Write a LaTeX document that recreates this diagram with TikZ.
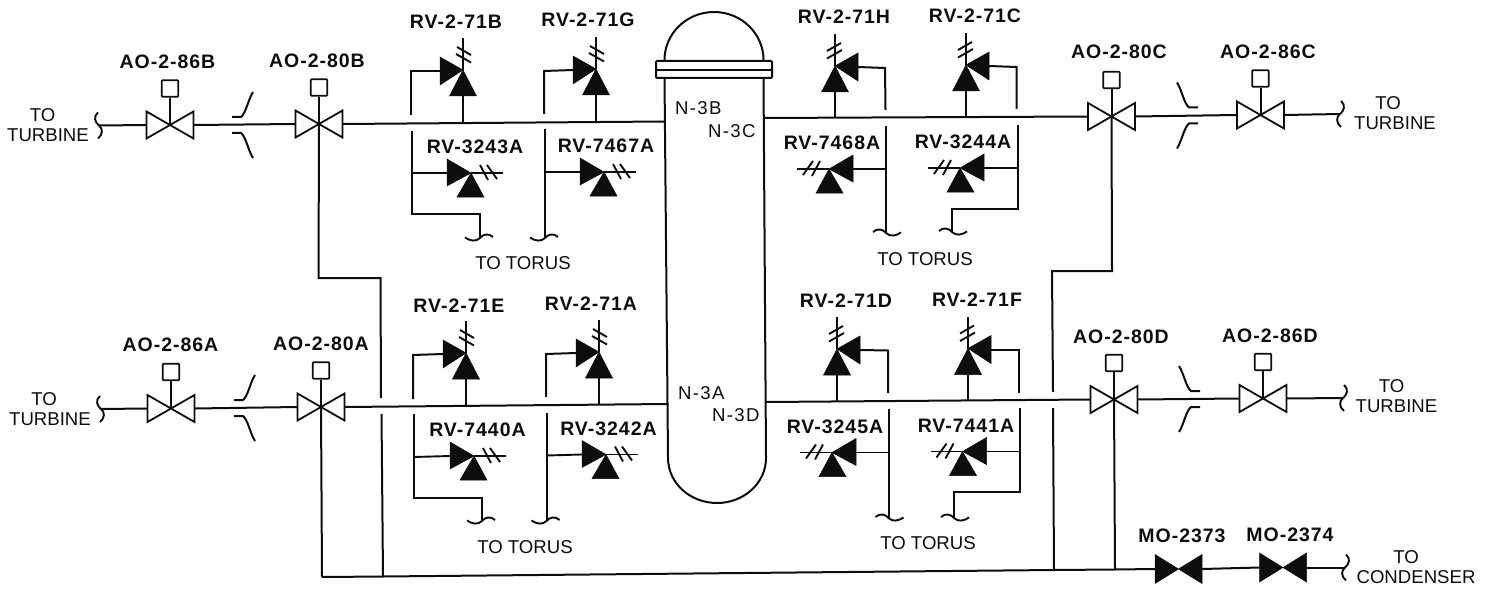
\documentclass[tikz,border=0pt]{standalone}
\usepackage{fontspec}
\setmainfont{Liberation Sans}
\newfontfamily\tagfont[LetterSpace=5]{Liberation Sans}
\newfontfamily\nozfont[LetterSpace=7]{Liberation Sans}
\definecolor{ink}{HTML}{0D0D0D}
\tikzset{
  pipe/.style={draw=ink,line width=2pt,line join=miter},
  thinpipe/.style={draw=ink,line width=1.9pt},
  solidtri/.style={fill=ink,draw=ink,line width=0.5pt,line join=miter},
  opentri/.style={fill=white,draw=ink,line width=1.8pt,line join=miter},
  actbox/.style={draw=ink,line width=1.7pt,rectangle,rounded corners=0.8pt,minimum size=16.5pt,inner sep=0pt,fill=white},
  tagtext/.style={text=ink,inner sep=0pt,font=\tagfont\bfseries\fontsize{19.5}{20}\selectfont},
  plaintext/.style={text=ink,inner sep=0pt,align=center,font=\fontsize{18.6}{20}\selectfont},
  noztext/.style={text=ink,inner sep=0pt,font=\nozfont\fontsize{18.6}{20}\selectfont},
}
% relief valve, outlet up; #1 name, #2 x, #3 y (apex), #4 +1 / -1 mirror
\newcommand\rvup[4]{%
  \begin{scope}[shift={(#2,#3)},xscale=#4]
    \coordinate (#1) at (0,0);
    \coordinate (#1I) at (-23,1);
    \coordinate (#1S) at (0,26);
    \path[solidtri] (-13.5,26) -- (13.5,26) -- (0,0) -- cycle;
    \path[solidtri] (-23,-13) -- (-23,15) -- (0,0) -- cycle;
    \draw[thinpipe] (0,0) -- (0,-32);
    \draw[thinpipe] (-6,-23) -- (8,-15) (-7,-16) -- (8,-7.5);
  \end{scope}}
% relief valve, outlet sideways
\newcommand\rvside[4]{%
  \begin{scope}[shift={(#2,#3)},xscale=#4]
    \coordinate (#1) at (0,0);
    \coordinate (#1I) at (-24,0);
    \path[solidtri] (-14,24) -- (13,24) -- (0,0) -- cycle;
    \path[solidtri] (-24,-14) -- (-24,13) -- (0,0) -- cycle;
    \draw[thinpipe] (0,0) -- (32,0);
    \draw[thinpipe] (9,-8) -- (17,7) (16,-8) -- (26,6);
  \end{scope}}
% air operated valve
\newcommand\aov[3]{%
  \begin{scope}[shift={(#2,#3)}]
    \coordinate (#1) at (0,0);
    \coordinate (#1L) at (-23.5,0);
    \coordinate (#1R) at (23.5,0);
    \path[opentri] (-23.5,-13.5) -- (-23.5,13.5) -- (23.5,-13.5) -- (23.5,13.5) -- cycle;
    \node[actbox] (#1box) at (0,-36.5) {};
    \draw[pipe] (#1box) -- (#1);
  \end{scope}}
% motor operated valve
\newcommand\mov[3]{%
  \begin{scope}[shift={(#2,#3)}]
    \coordinate (#1) at (0,0);
    \coordinate (#1L) at (-23.5,0);
    \coordinate (#1R) at (23.5,0);
    \path[solidtri] (-23.5,-14.5) -- (-23.5,14.5) -- (23.5,-14.5) -- (23.5,14.5) -- cycle;
  \end{scope}}
% wavy pipe end: #1 coordinate, #2 mirror
\newcommand\wig[2]{%
  \begin{scope}[shift={(#1)},xscale=#2]
    \draw[thinpipe] (-15,-0.5) .. controls (-10,3) and (-4,4) .. (0,0) .. controls (3,-4) and (9,-5) .. (13,-1);
  \end{scope}}
% brace-like pipe end
\newcommand\brc[2]{%
  \begin{scope}[shift={(#1)},xscale=#2]
    \draw[thinpipe] (-1,-13) .. controls (-6,-9) and (-4,-3) .. (0,0) .. controls (4,3) and (4,9) .. (-1,13);
  \end{scope}}
% containment penetration marks
\newcommand\pen[2]{%
  \begin{scope}[shift={(#1)},xscale=#2]
    \draw[pipe] (-11,-8) -- (-2,-8) .. controls (3,-12) and (5,-25) .. (10,-33);
    \draw[pipe] (-11,8) -- (-2,8) .. controls (3,12) and (5,25) .. (10,33);
  \end{scope}}
\begin{document}
\begin{tikzpicture}[x=1pt,y=-1pt]
\useasboundingbox[fill=white] (0,0) rectangle (1485,591);

% ---------- vessel
\draw[pipe] (664.5,60) .. controls (664.5,33.5) and (686.7,12) .. (714,12) .. controls (741.3,12) and (763.5,33.5) .. (763.5,60);
\draw[pipe] (664.5,78) -- (668,458) .. controls (668,483) and (690,503) .. (717,503) .. controls (744,503) and (766,483) .. (766,458) -- (763.5,78);
\draw[pipe,rounded corners=1pt] (656,61) rectangle (772,78);
\draw[pipe] (656,70) -- (772,70);
\coordinate (noz3B) at (665,121.5);
\coordinate (noz3C) at (763.5,118);
\coordinate (noz3A) at (668,404);
\coordinate (noz3D) at (766,402);
\node[noztext,anchor=base west] (n3b) at (675,115) {N-3B};
\node[noztext,anchor=base west] (n3c) at (708,137) {N-3C};
\node[noztext,anchor=base west] (n3a) at (678,399) {N-3A};
\node[noztext,anchor=base west] (n3d) at (712,421) {N-3D};

% ---------- isolation valves
\aov{ab}{170}{125}   \aov{bb}{319}{124}
\aov{aa}{171}{408.5} \aov{ba}{321}{407}
\aov{bc}{1111.5}{116.5} \aov{ac}{1260.5}{115}
\aov{bd}{1114}{399.5}   \aov{ad}{1263}{398.5}
\mov{ma}{1178.5}{569}  \mov{mb}{1283}{567.5}

% steam lines
\coordinate (brTL) at (99,125.5);
\coordinate (brBL) at (101,409);
\coordinate (brTR) at (1340,114);
\coordinate (brBR) at (1343,398);
\coordinate (brCN) at (1345,567.5);
\draw[pipe] (brTL) -- (abL);  \brc{brTL}{1}
\draw[pipe] (brBL) -- (aaL);  \brc{brBL}{1}
\draw[pipe] (acR) -- (brTR);  \brc{brTR}{-1}
\draw[pipe] (adR) -- (brBR);  \brc{brBR}{-1}
\draw[pipe] (mbR) -- (brCN);  \brc{brCN}{-1}
\draw[pipe] (abR) -- (bbL);
\draw[pipe] (aaR) -- (baL);
\draw[pipe] (bcR) -- (acL);
\draw[pipe] (bdR) -- (adL);
\draw[pipe] (bbR) -- (noz3B);
\draw[pipe] (baR) -- (noz3A);
\draw[pipe] (noz3C) -- (bcL);
\draw[pipe] (noz3D) -- (bdL);

\coordinate (penTL) at (243,125);
\coordinate (penBL) at (245,408);
\coordinate (penTR) at (1187,115.5);
\coordinate (penBR) at (1189,399);
\pen{penTL}{1} \pen{penBL}{1} \pen{penTR}{-1} \pen{penBR}{-1}

% drain header
\coordinate (hdL) at (322,577);
\coordinate (hdLb) at (383,576.5);
\coordinate (hdRb) at (1054,570);
\coordinate (hdRd) at (1115,569.5);
\draw[pipe] (hdL) -- (hdLb) -- (hdRb) -- (hdRd) -- (maL);
\draw[pipe] (maR) -- (mbL);
\draw[pipe] (ba) -- (hdL);
\draw[pipe] (bd) -- (hdRd);
\coordinate (bb1) at (318.5,278);
\coordinate (bb2) at (380.5,278);
\coordinate (bb3) at (381,398);
\coordinate (bb4) at (381.5,414);
\draw[pipe] (bb) -- (bb1) -- (bb2) -- (bb3);
\draw[pipe] (bb4) -- (hdLb);
\coordinate (bc1) at (1112,271);
\coordinate (bc2) at (1052,271);
\coordinate (bc3) at (1053,392);
\coordinate (bc4) at (1053,408);
\draw[pipe] (bc) -- (bc1) -- (bc2) -- (bc3);
\draw[pipe] (bc4) -- (hdRb);

% ---------- relief valves, upper left
\rvup{vB}{463}{70}{1}  \rvup{vG}{596}{69}{1}
\rvside{v43}{471}{173}{1} \rvside{v67}{604}{172}{1}
\coordinate (tB) at (463,122.8);
\coordinate (tG) at (596,122);
\draw[pipe] (vBS) -- (tB);
\draw[pipe] (vGS) -- (tG);
\coordinate (pB1) at (411,71); \coordinate (pB2) at (411,115);
\draw[pipe] (vBI) -- (pB1) -- (pB2);
\coordinate (pG1) at (544,71); \coordinate (pG2) at (544,114);
\draw[pipe] (vGI) -- (pG1) -- (pG2);
\coordinate (q1a) at (411.5,131); \coordinate (q1b) at (411.5,173); \coordinate (q1c) at (411.5,214);
\coordinate (q1d) at (480,214); \coordinate (q1e) at (480,238);
\draw[pipe] (q1a) -- (q1c) -- (q1d) -- (q1e);
\draw[thinpipe] (q1b) -- (v43I);
\wig{q1e}{1}
\coordinate (q2a) at (545,129); \coordinate (q2b) at (545,172); \coordinate (q2e) at (545,238);
\draw[pipe] (q2a) -- (q2e);
\draw[thinpipe] (q2b) -- (v67I);
\wig{q2e}{1}

% ---------- relief valves, upper right
\rvup{vH}{835}{66}{-1}  \rvup{vC}{966}{65}{-1}
\rvside{v68}{829}{169}{-1} \rvside{v44}{960}{168}{-1}
\coordinate (tH) at (835,117.8);
\coordinate (tC) at (966,117.2);
\draw[pipe] (vHS) -- (tH);
\draw[pipe] (vCS) -- (tC);
\coordinate (pH1) at (885,68); \coordinate (pH2) at (885.5,110);
\draw[pipe] (vHI) -- (pH1) -- (pH2);
\coordinate (pC1) at (1016.5,67); \coordinate (pC2) at (1016.5,109);
\draw[pipe] (vCI) -- (pC1) -- (pC2);
\coordinate (q3a) at (886,126); \coordinate (q3b) at (886,169); \coordinate (q3e) at (886,233);
\draw[pipe] (q3a) -- (q3e);
\draw[thinpipe] (q3b) -- (v68I);
\wig{q3e}{-1}
\coordinate (q4a) at (1017.5,125); \coordinate (q4b) at (1017.5,168); \coordinate (q4c) at (1017.5,209);
\coordinate (q4d) at (952,209); \coordinate (q4e) at (952,232);
\draw[pipe] (q4a) -- (q4c) -- (q4d) -- (q4e);
\draw[thinpipe] (q4b) -- (v44I);
\wig{q4e}{-1}

% ---------- relief valves, lower left
\rvup{vE}{466}{353}{1}  \rvup{vA}{599}{352}{1}
\rvside{v40}{474}{456}{1} \rvside{v42}{606}{454.5}{1}
\coordinate (tE) at (466,405.5);
\coordinate (tA) at (599,404.5);
\draw[pipe] (vES) -- (tE);
\draw[pipe] (vAS) -- (tA);
\coordinate (pE1) at (413,355); \coordinate (pE2) at (413,399);
\draw[pipe] (vEI) -- (pE1) -- (pE2);
\coordinate (pA1) at (546,354); \coordinate (pA2) at (546,397);
\draw[pipe] (vAI) -- (pA1) -- (pA2);
\coordinate (q5a) at (414,414); \coordinate (q5b) at (414,457); \coordinate (q5c) at (414,498);
\coordinate (q5d) at (482,498); \coordinate (q5e) at (482,521);
\draw[pipe] (q5a) -- (q5c) -- (q5d) -- (q5e);
\draw[thinpipe] (q5b) -- (v40I);
\wig{q5e}{1}
\coordinate (q6a) at (546.5,413); \coordinate (q6b) at (546.5,455.5); \coordinate (q6e) at (546.5,521);
\draw[pipe] (q6a) -- (q6e);
\draw[thinpipe] (q6b) -- (v42I);
\wig{q6e}{1}

% ---------- relief valves, lower right
\rvup{vD}{837}{349}{-1}  \rvup{vF}{968}{348.5}{-1}
\rvside{v45}{832}{452.5}{-1} \rvside{v41}{962.5}{451.5}{-1}
\coordinate (tD) at (837,401.6);
\coordinate (tF) at (968,401);
\draw[pipe] (vDS) -- (tD);
\draw[pipe] (vFS) -- (tF);
\coordinate (pD1) at (888,350.5); \coordinate (pD2) at (888,393);
\draw[pipe] (vDI) -- (pD1) -- (pD2);
\coordinate (pF1) at (1019,349.5); \coordinate (pF2) at (1019,393);
\draw[pipe] (vFI) -- (pF1) -- (pF2);
\coordinate (q7a) at (888.5,409); \coordinate (q7b) at (888.5,452.5); \coordinate (q7e) at (888.5,518);
\draw[pipe] (q7a) -- (q7e);
\draw[thinpipe] (q7b) -- (v45I);
\wig{q7e}{-1}
\coordinate (q8a) at (1020,408); \coordinate (q8b) at (1020,451.5); \coordinate (q8c) at (1020,492);
\coordinate (q8d) at (954,492); \coordinate (q8e) at (954,518);
\draw[pipe] (q8a) -- (q8c) -- (q8d) -- (q8e);
\draw[thinpipe] (q8b) -- (v41I);
\wig{q8e}{-1}

% ---------- valve tags
\node[tagtext] (l86b) at (167.5,62) {AO-2-86B};
\node[tagtext] (l80b) at (317,61) {AO-2-80B};
\node[tagtext] (l86a) at (170.5,345) {AO-2-86A};
\node[tagtext] (l80a) at (321,344) {AO-2-80A};
\node[tagtext] (l80c) at (1119,52) {AO-2-80C};
\node[tagtext] (l86c) at (1268,52) {AO-2-86C};
\node[tagtext] (l80d) at (1121,337) {AO-2-80D};
\node[tagtext] (l86d) at (1270,336) {AO-2-86D};
\node[tagtext] (lB) at (456,22) {RV-2-71B};
\node[tagtext] (lG) at (588,20) {RV-2-71G};
\node[tagtext] (l43) at (475,147) {RV-3243A};
\node[tagtext] (l67) at (606,146) {RV-7467A};
\node[tagtext] (lH) at (844,17) {RV-2-71H};
\node[tagtext] (lC) at (975,16) {RV-2-71C};
\node[tagtext] (l68) at (832,143) {RV-7468A};
\node[tagtext] (l44) at (963,142) {RV-3244A};
\node[tagtext] (lE) at (459,306) {RV-2-71E};
\node[tagtext] (lA) at (591,304) {RV-2-71A};
\node[tagtext] (l40) at (477.5,430) {RV-7440A};
\node[tagtext] (l42) at (608.5,429) {RV-3242A};
\node[tagtext] (lD) at (846,301) {RV-2-71D};
\node[tagtext] (lF) at (977,300) {RV-2-71F};
\node[tagtext] (l45) at (835,427) {RV-3245A};
\node[tagtext] (l41) at (966,426) {RV-7441A};
\node[tagtext] (lm3) at (1182,536) {MO-2373};
\node[tagtext] (lm4) at (1290,535) {MO-2374};

% ---------- destination texts
\node[plaintext] (t1) at (523,263) {TO TORUS};
\node[plaintext] (t2) at (925,259) {TO TORUS};
\node[plaintext] (t3) at (525,547) {TO TORUS};
\node[plaintext] (t4) at (928,543) {TO TORUS};
\node[plaintext] (d1) at (48,125.5) {TO\kern 11pt\\TURBINE};
\node[plaintext] (d2) at (50,409) {TO\kern 12pt\\TURBINE};
\node[plaintext] (d3) at (1395,113) {TO\kern 14pt\\TURBINE};
\node[plaintext] (d4) at (1396.5,396) {TO\kern 10pt\\TURBINE};
\node[plaintext] (d5) at (1416,567) {TO\kern 20pt\\CONDENSER};
\end{tikzpicture}
\end{document}
